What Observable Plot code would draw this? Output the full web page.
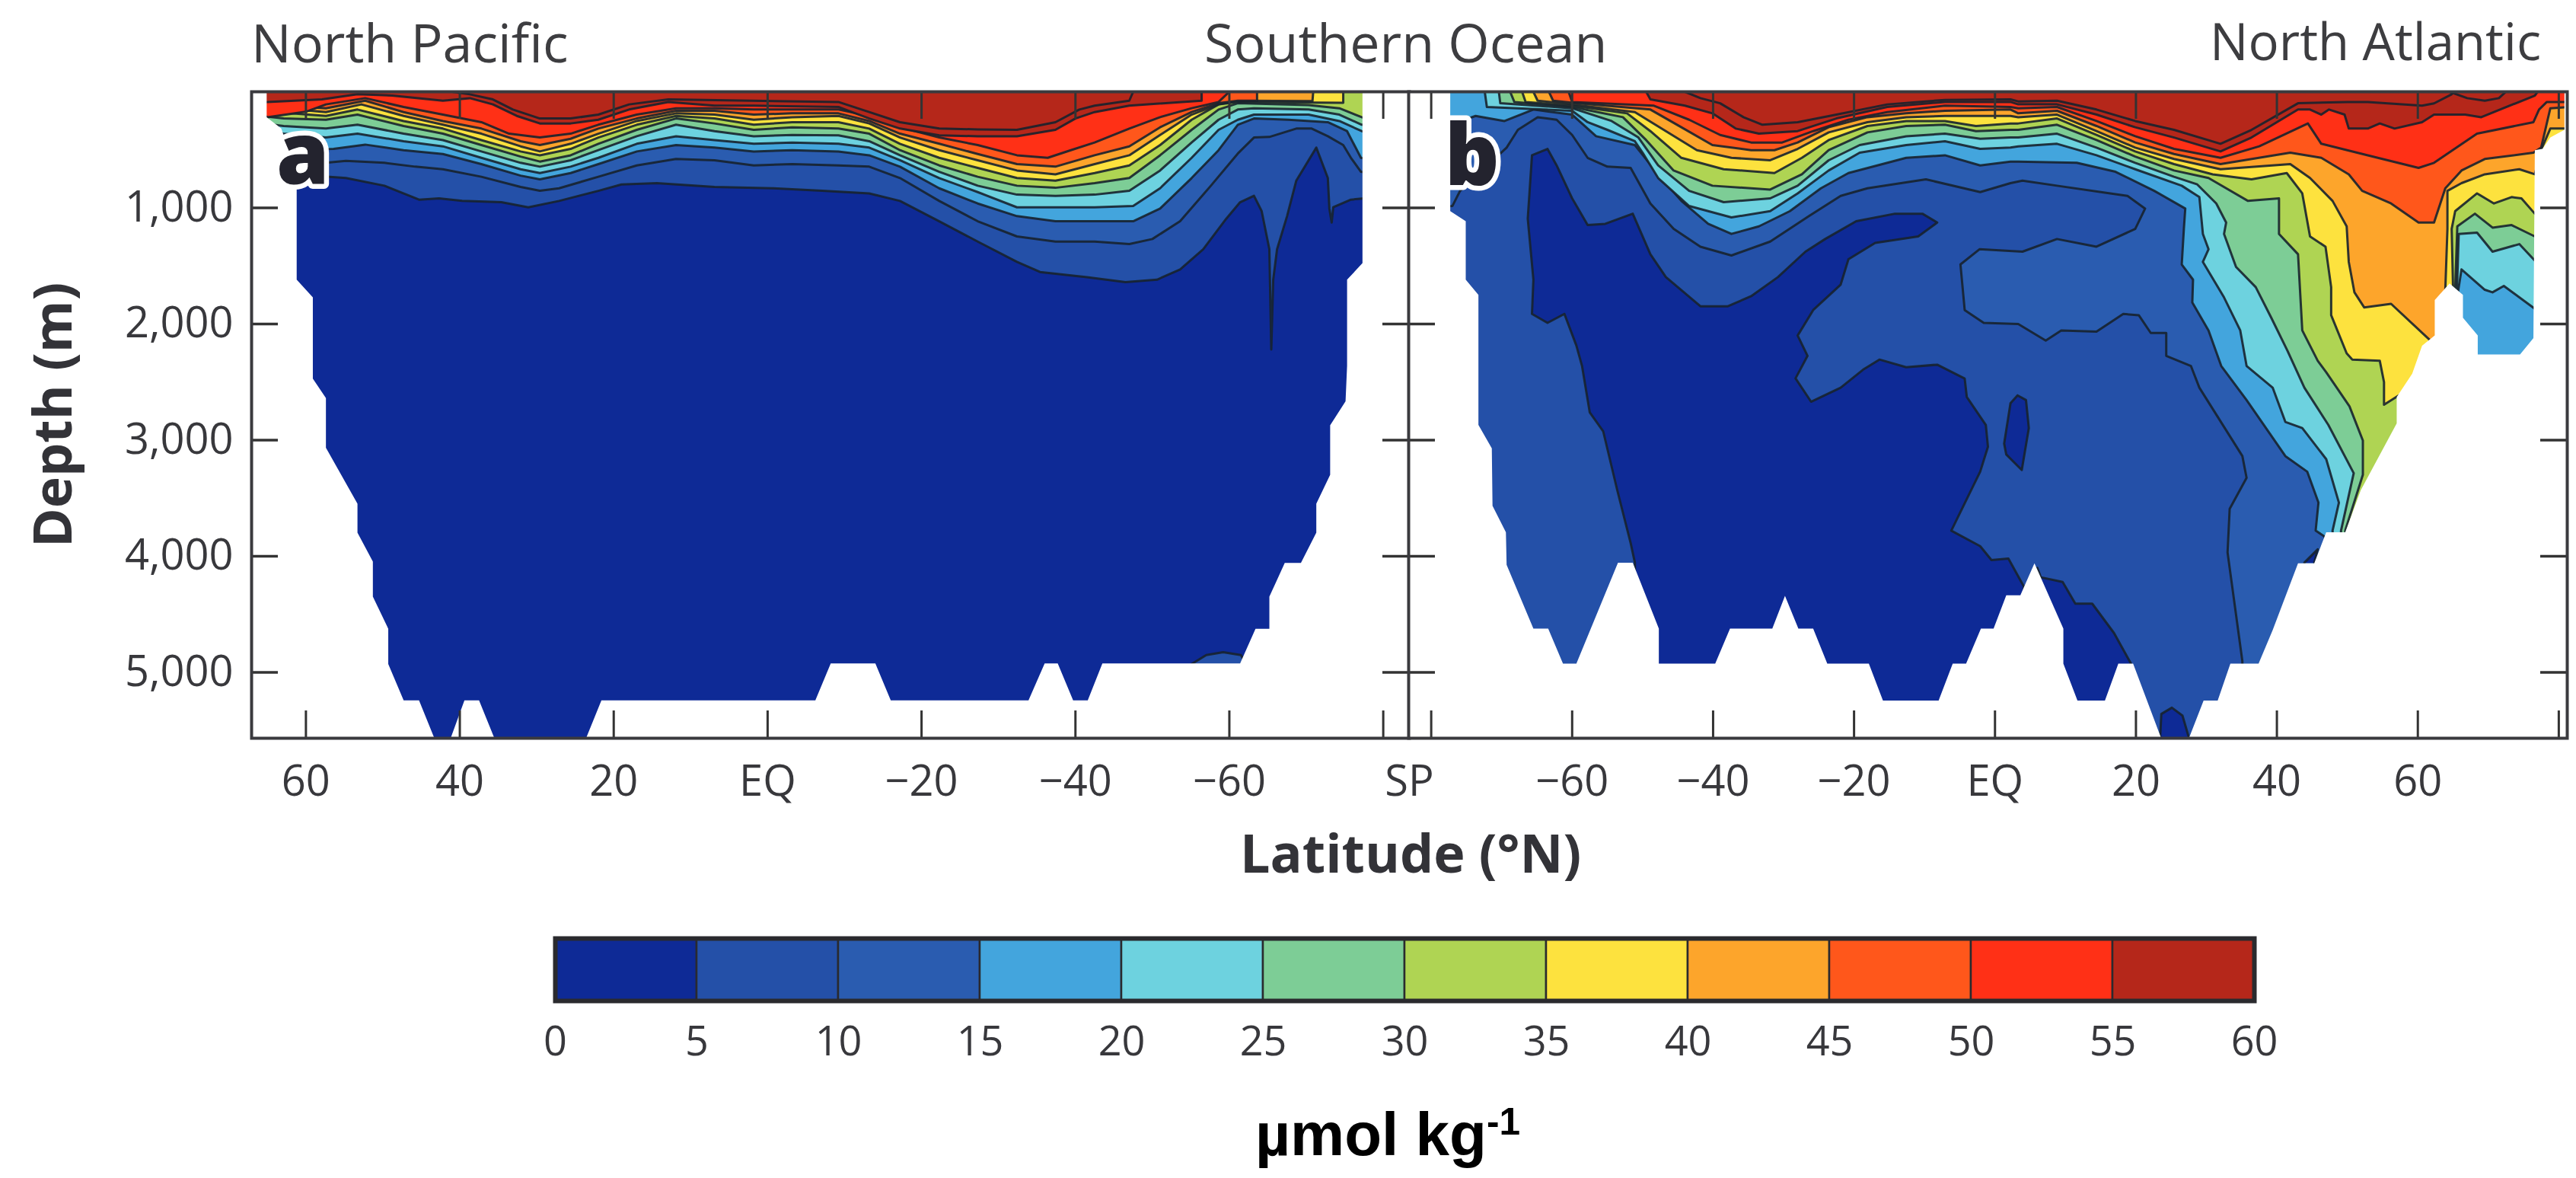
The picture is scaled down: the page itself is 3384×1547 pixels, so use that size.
<!DOCTYPE html>
<html><head><meta charset="utf-8">
<script src="https://cdn.jsdelivr.net/npm/d3@7"></script>
<script src="https://cdn.jsdelivr.net/npm/@observablehq/plot@0.6"></script>
<style>
html,body{margin:0;padding:0;background:#fff;}
#page{position:relative;width:3384px;height:1547px;overflow:hidden;font-family:"Open Sans",sans-serif;color:#38383c;}
#page>div.t{position:absolute;white-space:nowrap;line-height:1;}
#page>div.p{position:absolute;top:0;}
</style></head><body><div id="page"></div>
<script>
// value bands (µmol/kg)
const bandEdges=[0,5,10,15,20,25,30,35,40,45,50,55,60];
const bandColors=["#0e2a96","#2450a8","#2a5cb0","#43a5dd","#6dd2df","#7dcd96","#afd453","#fde23e","#fda52b","#ff571b","#ff3016","#b5271a"];
const depthTicks=[1000,2000,3000,4000,5000];
const latTicks=[60,40,20,0,-20,-40,-60,-80];

// ---- Panel a (Pacific): isolines as [latitude, depth m] ----
const a05=[[67,720],[56.9,733],[54.8,743],[49.8,809],[45.3,929],[42.7,918],[39.7,940],[34.6,951],[31.1,995],[27.1,940],[22,853],[19,798],[14.4,787],[6.9,820],[-0.7,831],[-7.1,853],[-13.2,875],[-17.2,940],[-22.3,1115],[-27.3,1290],[-32.4,1465],[-35.4,1552],[-41.5,1596],[-46.5,1640],[-50.6,1618],[-53.6,1530],[-56.6,1356],[-59.6,1093],[-61.4,951],[-63.2,896],[-64.2,1028],[-65.2,1356],[-65.45,2219],[-65.7,1618],[-66.2,1356],[-67.5,1071],[-68.7,765],[-71.3,481],[-72.8,743],[-73,1006],[-73.3,1126],[-73.5,995],[-75.8,929],[-77.5,918],[-84,918],[-84,0],[67,0]];
const a05patch=[[-55.1,4928],[-57,4850],[-59.2,4826],[-61.5,4850],[-62.2,4928]];
const a10=[[67,600],[57.4,612],[54.8,595],[49.8,612],[45.8,645],[42.2,667],[37.2,732],[32.1,820],[29.6,853],[27.1,831],[22,732],[17,634],[11.9,579],[6.9,590],[1.8,634],[-3.2,623],[-9.2,634],[-13.2,645],[-17.2,743],[-22.3,940],[-27.3,1115],[-32.4,1246],[-37.4,1290],[-42.5,1290],[-47,1312],[-50,1268],[-53.6,1115],[-57.6,809],[-61.2,525],[-63.2,394],[-65.2,389],[-68.7,317],[-70.7,317],[-72.8,383],[-74.8,459],[-75.8,569],[-77.1,689],[-84,760],[-84,0],[67,0]];
const a15=[[67,505],[56.4,492],[52.3,455],[47.3,503],[42.2,536],[37.2,623],[32.1,722],[29.6,754],[25.6,700],[22,623],[17,514],[11.9,459],[6.9,481],[1.8,514],[-3.2,503],[-9.2,514],[-13.2,547],[-17.2,645],[-22.3,831],[-27.3,962],[-32.4,1071],[-37.4,1115],[-42.5,1115],[-47.5,1115],[-51,1006],[-55.1,743],[-58.6,503],[-61.1,284],[-63.2,230],[-67.7,241],[-72.8,262],[-75.3,339],[-77.1,569],[-84,640],[-84,0],[67,0]];
const a20=[[67,330],[62.9,361],[57.4,394],[53.3,361],[47.3,426],[42.2,470],[37.2,569],[32.1,667],[29.6,700],[25.6,645],[22,569],[17,448],[11.9,383],[6.9,416],[1.8,448],[-3.2,437],[-9.2,448],[-13.2,481],[-17.2,590],[-22.3,743],[-27.3,864],[-32.4,995],[-37.4,995],[-42.5,995],[-47.5,984],[-51,831],[-55.1,569],[-58.6,328],[-61.1,241],[-63.2,197],[-70.3,197],[-74.3,252],[-77.2,339],[-84,400],[-84,0],[67,0]];
const a25=[[67,260],[62.9,295],[57.4,317],[53.3,284],[47.3,361],[42.2,416],[37.2,514],[32.1,612],[29.6,645],[25.6,590],[22,503],[17,383],[11.9,284],[6.9,339],[1.8,383],[-3.2,372],[-9.2,376],[-13.2,426],[-17.2,547],[-22.3,689],[-27.3,809],[-32.4,886],[-37.4,897],[-42.5,886],[-47,853],[-51,678],[-55.1,437],[-58.6,241],[-61.1,153],[-63.2,142],[-70.3,153],[-74.3,197],[-77.2,284],[-84,340],[-84,0],[67,0]];
const a30=[[67,200],[62.9,230],[57.4,241],[53.3,197],[47.3,295],[42.2,361],[37.2,459],[32.1,558],[29.6,601],[25.6,547],[22,448],[17,328],[11.9,230],[6.9,273],[1.8,328],[-3.2,306],[-9.2,317],[-13.2,361],[-17.2,503],[-22.3,634],[-27.3,732],[-32.4,809],[-37.4,827],[-42.5,787],[-47,743],[-51,547],[-55.1,328],[-58.6,153],[-61.1,99],[-70.3,114],[-74.3,142],[-77.2,219],[-84,280],[-84,0],[67,0]];
const a35=[[67,150],[62.9,180],[57.4,208],[53.3,153],[47.3,252],[42.2,317],[37.2,416],[32.1,514],[29.6,547],[25.6,492],[22,394],[17,284],[11.9,208],[6.9,230],[1.8,284],[-3.2,262],[-9.2,262],[-13.2,317],[-17.2,448],[-22.3,569],[-27.3,656],[-32.4,743],[-37.4,765],[-42.5,700],[-47,634],[-51,459],[-55.1,241],[-58.6,109],[-61.1,88],[-74.8,95],[-74.8,0],[67,0]];
const a40=[[67,120],[57.4,175],[52.8,109],[47.3,208],[42.2,284],[37.2,361],[32.1,470],[29.6,514],[25.6,448],[22,361],[17,252],[11.9,186],[6.9,197],[1.8,241],[-3.2,219],[-9.2,208],[-13.2,273],[-17.2,394],[-22.3,503],[-27.3,590],[-32.4,678],[-37.4,711],[-42.5,623],[-47,547],[-51,372],[-55.1,197],[-58.6,109],[-61.1,77],[-70.8,81],[-70.9,0],[67,0]];
const a45=[[67,100],[57.4,142],[52.3,77],[47.3,175],[42.2,252],[37.2,317],[32.1,426],[29.6,459],[25.6,405],[22,317],[17,230],[11.9,164],[6.9,164],[1.8,197],[-3.2,186],[-9.2,186],[-13.2,252],[-17.2,361],[-22.3,448],[-27.3,536],[-32.4,623],[-37.4,645],[-42.5,547],[-47,470],[-51,306],[-55.1,175],[-58.6,99],[-61.1,77],[-63.6,77],[-63.6,0],[67,0]];
const a50=[[67,150],[65,219],[59.9,170],[57.4,109],[52.3,55],[47.3,131],[42.2,197],[37.2,262],[33.6,361],[29.6,394],[25.6,361],[22,284],[17,197],[11.9,142],[6.9,142],[1.8,153],[-3.2,153],[-9.2,153],[-13.2,208],[-17.2,306],[-22.3,394],[-27.3,459],[-32.4,547],[-36.4,569],[-39.4,503],[-42.5,437],[-47,317],[-51,219],[-55.1,142],[-58.6,88],[-60,0],[67,0]];
const a55=[[67,90],[65,88],[57.9,66],[53.3,22],[48.8,33],[42.2,77],[38.7,55],[35.7,109],[32.6,208],[29.6,273],[25.6,273],[22,241],[18,153],[12.9,88],[6.9,120],[1.8,120],[-9.2,131],[-10.1,153],[-13.2,230],[-17.2,317],[-22.3,376],[-27.3,383],[-32.4,383],[-37.4,328],[-40,230],[-42.5,175],[-47,120],[-56.4,77],[-56.4,0],[67,0]];
const a60=[[41,0],[38.7,22],[35.7,66],[33.1,153],[29.6,230],[25.6,230],[22,197],[18,109],[12.9,66],[-9.2,88],[-13.2,175],[-17.2,262],[-22.3,317],[-27.3,324],[-32.4,328],[-37.4,262],[-40.5,153],[-42.5,120],[-47,77],[-47.5,0]];
const aFloor=[[68,0],[65.1,0],[65.1,219],[63.2,317],[61.2,700],[61.2,1618],[59.1,1771],[59.1,2471],[57.4,2637],[57.4,3065],[53.3,3548],[53.3,3796],[51.3,4045],[51.3,4348],[49.3,4624],[49.3,4928],[47.3,5240],[45.3,5240],[43.3,5568],[41.2,5568],[39.4,5240],[37.5,5240],[35.5,5568],[23.6,5568],[21.6,5240],[-6.2,5240],[-8.2,4922],[-14,4922],[-16,5240],[-33.9,5240],[-36,4922],[-37.7,4922],[-39.7,5240],[-41.6,5240],[-43.5,4922],[-61.4,4922],[-63.4,4624],[-65.2,4624],[-65.2,4348],[-67.2,4058],[-69.3,4058],[-71.3,3796],[-71.3,3548],[-73.1,3299],[-73.1,2872],[-75.1,2665],[-75.3,2361],[-75.3,1618],[-77.3,1476],[-77.3,0],[-84,0],[-84,5700],[68,5700]];

// ---- Panel b (Atlantic): isolines as [latitude, depth m] ----
const bLow=[[-63.5,492],[-62.2,634],[-60,918],[-57.8,1148],[-55.3,1137],[-51.4,1050],[-48.9,1399],[-46.7,1596],[-41.8,1847],[-37.9,1847],[-34.6,1760],[-30.8,1596],[-26.9,1377],[-24.1,1268],[-19.7,1115],[-14.2,1050],[-10.3,1050],[-8.2,1126],[-10.9,1246],[-17,1301],[-20.8,1443],[-21.9,1661],[-25.8,1880],[-28,2099],[-26.6,2274],[-28.3,2468],[-26.1,2669],[-21.9,2548],[-18.6,2388],[-16.4,2306],[-12.6,2372],[-8.2,2350],[-4.3,2470],[-4,2629],[-1.3,2869],[-1,3057],[-2.1,3271],[-6.2,3779],[-2.1,3913],[-0.5,4033],[1.9,4020],[4.1,4261],[4.1,4400],[4.1,5700],[-51.1,5700],[-51.1,4055],[-51.7,3886],[-53.6,3431],[-55.6,2923],[-57.5,2762],[-58.6,2361],[-59.4,2186],[-61.1,1913],[-63.5,1990],[-65.7,1913],[-65.5,1618],[-66.3,1093],[-65.7,547],[-63.5,492]];
const bLowIsland=[[3.2,2615],[4.4,2655],[4.8,2896],[3.8,3257],[1.6,3124],[1.3,3030],[2.2,2682],[3.2,2615]];
const bLowEast=[[6,4100],[6.5,4181],[9.6,4221],[11.4,4408],[13.8,4408],[16.9,4662],[19.3,4925],[19.3,5700],[6,5700]];
const bLowTrench=[[23.4,5600],[23.6,5358],[25.1,5304],[26.6,5372],[27.7,5600]];
const bLowSlope=[[43.9,4055],[45.8,3940],[45.3,4055]];
const b10=[[-84,1000],[-77,984],[-75.9,853],[-69.3,481],[-67.7,328],[-64.9,219],[-62.2,241],[-60,372],[-57.8,569],[-55,645],[-51.7,656],[-48.9,962],[-45.6,1181],[-41.8,1334],[-37.4,1410],[-31.9,1290],[-26.4,1071],[-21.9,897],[-18.1,831],[-9.8,754],[-2.1,864],[2.2,787],[3.9,765],[8.8,809],[18.8,897],[21.3,1006],[19.9,1181],[14.4,1334],[8.8,1268],[3.9,1377],[-2.2,1356],[-4.9,1487],[-4.3,1880],[-1.6,1990],[3.3,2000],[7.2,2143],[9.4,2055],[14.4,2066],[18.2,1913],[20.4,1924],[22.1,2077],[24.3,2077],[24.3,2274],[27.8,2361],[29,2548],[35.1,3137],[35.7,3324],[33.3,3592],[33,3967],[35.1,4903],[35.1,4960],[84,4960],[84,0],[-84,0]];
const b15=[[-84,300],[-77.3,284],[-73.7,208],[-69.6,252],[-65.5,153],[-60,197],[-56.6,383],[-51.1,459],[-47.8,711],[-44.5,940],[-40.7,1137],[-37.4,1224],[-33.5,1159],[-29.1,1028],[-24.7,831],[-20.8,700],[-12.6,569],[-7.1,547],[-2.1,634],[2.2,601],[3.3,601],[11.6,612],[17.1,689],[22.6,853],[27,1006],[26.8,1181],[26.5,1487],[28.1,1618],[28,1815],[30.3,2055],[32.1,2361],[35.7,2655],[41.2,3137],[44.3,3271],[45.9,3538],[45.5,3779],[46.7,3827],[47,3860],[84,3860],[84,0],[-84,0]];
const b20=[[-72.4,0],[-72.1,131],[-67.7,142],[-60,164],[-57.8,262],[-55,328],[-51.1,426],[-50,525],[-47.8,743],[-43.4,984],[-37.4,1082],[-31.9,1028],[-28,875],[-23.6,678],[-19.2,525],[-12.6,459],[-7.1,426],[-2.1,492],[2.2,481],[3.3,470],[8.8,448],[14.4,547],[19.9,667],[26.5,809],[29,907],[29.5,1224],[30.3,1356],[29.5,1465],[32.5,1771],[34.8,2055],[35.7,2361],[39.4,2548],[41.2,2843],[43.6,2896],[47,3164],[48.8,3538],[47.9,3779],[48,3900],[65.5,3900],[65.5,1800],[66.2,1530],[69.5,1705],[70.6,1727],[72.2,1672],[76.6,1869],[84,1869],[84,0]];
const b25=[[-70.4,0],[-70.2,99],[-60,142],[-54.4,252],[-50.6,394],[-47.8,634],[-43.4,853],[-38.5,951],[-31.9,918],[-28,809],[-23.6,590],[-19.2,459],[-12.6,383],[-7.1,361],[-2.1,405],[2.2,394],[3.3,394],[8.8,361],[14.4,481],[19.9,612],[25.4,732],[28.7,798],[31.4,962],[32.8,1126],[32.5,1224],[34.2,1508],[37,1683],[39.2,1946],[41.5,2230],[43.9,2548],[47.3,2869],[50.9,3284],[49.1,3779],[49.1,3850],[65.5,3850],[65.5,1800],[65.8,1224],[68.4,1213],[70.6,1377],[74.4,1312],[76.6,1454],[84,1454],[84,0]];
const b30=[[-68.8,0],[-68.2,88],[-60,131],[-52.8,219],[-49.5,416],[-45.6,678],[-40.1,809],[-31.9,842],[-27.4,711],[-23.6,503],[-18.1,350],[-12.6,295],[-7.1,284],[-2.7,339],[2.2,328],[3.3,328],[8.8,284],[14.4,416],[19.9,558],[25.4,678],[30.3,743],[35.9,940],[40.3,918],[40.3,1224],[43,1399],[43.6,2055],[45.8,2317],[47,2415],[50.3,2709],[52.2,3003],[52.2,3298],[49.7,3779],[49.8,3850],[65.3,3850],[65.3,1700],[65.6,1159],[68.1,1050],[70.6,1170],[73.3,1148],[76.6,1246],[84,1246],[84,0]];
const b35=[[-67.1,0],[-66.6,88],[-60,120],[-52.2,186],[-48.9,339],[-44.5,569],[-38.5,667],[-31.3,700],[-27.4,569],[-23.6,416],[-18.1,295],[-12.6,252],[-7.1,252],[-2.7,295],[2.2,273],[3.3,273],[8.8,230],[14.4,372],[19.9,514],[25.4,623],[30.9,711],[36.4,754],[41.4,700],[43.6,875],[44.7,1246],[46.9,1334],[47.7,1683],[47.7,1924],[49.9,2252],[50.7,2306],[54.6,2317],[55.2,2500],[55.2,2695],[57.3,2615],[58,2900],[65,2900],[65,1700],[64.8,1181],[65.3,1028],[68.4,875],[70.8,962],[73.3,907],[74.7,918],[76.6,1050],[84,1050],[84,0]];
const b40=[[-65.5,0],[-64.9,77],[-60,109],[-51.1,175],[-46.7,339],[-42.3,503],[-37.4,569],[-31.9,590],[-28,492],[-23.6,350],[-18.1,262],[-12.6,219],[-7.1,208],[2.2,208],[3.3,219],[8.8,197],[14.4,339],[19.9,481],[25.4,579],[32,667],[41.9,623],[44.7,743],[47.9,940],[49.9,1159],[50.2,1465],[51,1727],[52.4,1858],[56.2,1826],[61.8,2143],[62,2300],[63.9,2300],[63.9,1700],[64.2,1181],[64.2,853],[66.2,787],[69.5,711],[74.4,667],[76.6,711],[77.5,500],[78.8,317],[84,317],[84,0]];
const b45=[[-63.3,0],[-62.7,77],[-59.4,99],[-48.9,153],[-44.5,306],[-40.1,459],[-34.6,503],[-31.3,503],[-28,437],[-23.6,306],[-18.1,219],[-12.6,186],[-7.1,164],[2.2,153],[3.3,186],[8.8,164],[14.4,295],[19.9,437],[25.4,536],[32,623],[41.9,525],[46.3,569],[50.2,711],[52.1,853],[56.2,962],[60.1,1126],[62.3,1126],[63.9,831],[66.2,678],[69.5,579],[76.4,525],[77.5,481],[78.8,142],[84,120],[84,0]];
const b50=[[-60.5,0],[-60,88],[-48.4,120],[-43.4,241],[-39,372],[-34.6,437],[-30.2,437],[-25.8,339],[-20.8,241],[-15.3,175],[-7.1,120],[2.2,131],[3.3,142],[8.8,131],[14.4,252],[19.9,383],[25.4,492],[32,569],[37.5,470],[44.4,273],[46.3,448],[52.9,547],[60.1,656],[62.3,612],[68.4,361],[76.4,262],[77.2,153],[78.3,88],[84,88],[84,0]];
const b55=[[-49.5,0],[-48.9,66],[-44,120],[-40.1,186],[-36.8,317],[-33.5,361],[-28,339],[-22.5,230],[-15.3,131],[-7.1,88],[2.2,88],[3.3,109],[8.8,109],[14.4,197],[19.9,306],[25.4,394],[32,514],[36.4,394],[43,153],[44.7,153],[46.3,197],[47.4,153],[49.6,197],[50.2,317],[52.9,317],[54.6,273],[56.7,317],[60.6,262],[62.3,197],[66.7,197],[69,219],[76.6,33],[77,0]];
const b60=[[-44,0],[-41.8,55],[-39,99],[-35.7,219],[-33,284],[-28,262],[-22.5,197],[-15.3,109],[-7.1,70],[2.2,66],[3.3,83],[8.8,77],[14.4,153],[19.9,252],[25.4,328],[32,448],[36.4,328],[43,99],[50,88],[52.9,88],[60.6,120],[62.3,100],[64.8,22],[65,0]];
const b60loop=[[64.5,0],[67,55],[69.5,77],[71.5,55],[72.5,0]];
const bFloor=[[-84,0],[-77.3,0],[-77.3,1028],[-75.1,1115],[-75.1,1618],[-73.3,1749],[-73.3,2869],[-71.4,3070],[-71.3,3565],[-69.4,3793],[-69.3,4074],[-65.5,4622],[-63.4,4622],[-61.3,4925],[-59.4,4925],[-53.5,4055],[-51.4,4055],[-47.7,4622],[-47.7,4925],[-39.7,4925],[-37.6,4622],[-31.6,4622],[-29.8,4341],[-27.9,4622],[-25.8,4622],[-23.8,4925],[-17.9,4925],[-15.9,5243],[-8,5243],[-6,4925],[-4.1,4925],[-2,4622],[-0.2,4622],[1.6,4336],[3.6,4336],[5.6,4060],[9.7,4622],[9.7,4925],[11.7,5243],[15.6,5243],[17.5,4925],[19.6,4925],[23.6,5570],[27.5,5570],[29.6,5243],[31.6,5243],[33.4,4925],[37.4,4925],[39.4,4636],[43,4060],[45.3,4060],[47,3793],[49.7,3793],[51.9,3431],[57,2856],[57,2629],[59.2,2428],[60.6,2186],[62.4,2099],[62.4,1793],[64.5,1651],[66.4,1749],[66.4,1946],[68.5,2099],[68.5,2263],[74.5,2263],[76.4,2121],[76.6,503],[77.7,492],[78.8,394],[80.8,328],[80.8,0],[84,0],[84,5700],[-84,5700]];

const FONT='"Open Sans",sans-serif', INK="#38383c", LINE="#17222e";
const SP_LAT=-83.4;
const latLabel=d=>d===0?"EQ":d===SP_LAT?"SP":d<0?"\u2212"+(-d):String(d);

function outline(pts,fill){return Plot.line(pts,{x:d=>d[0],y:d=>d[1],fill,stroke:LINE,strokeWidth:3,strokeOpacity:.9,curve:"linear",clip:true});}
function land(pts){return Plot.line(pts,{x:d=>d[0],y:d=>d[1],fill:"white",stroke:"none",curve:"linear",clip:true});}

function panel({left,width,marginLeft,marginRight,xDomain,layers,floor,ticks,labelTicks,letter}){
  const kx=(width-marginLeft-marginRight)/Math.abs(xDomain[1]-xDomain[0]);
  const sgn=Math.sign(xDomain[1]-xDomain[0]);
  const tickLenX=35/kx, tickLenY=36/0.1525;
  const svg=Plot.plot({
    width,height:1080,marginLeft,marginRight,marginTop:120,marginBottom:111,
    x:{domain:xDomain,label:null},
    y:{domain:[0,5567],reverse:true,label:null,axis:null},
    style:{background:"transparent",maxWidth:"none",overflow:"visible",fontFamily:FONT},
    marks:[
      ...layers,
      land(floor),
      Plot.ruleX(ticks,{x:d=>d,y1:0,y2:tickLenY,stroke:"#333",strokeWidth:3}),
      Plot.ruleX(ticks,{x:d=>d,y1:5567,y2:5567-tickLenY,stroke:"#333",strokeWidth:3}),
      Plot.ruleY(depthTicks,{y:d=>d,x1:xDomain[0],x2:xDomain[0]+sgn*tickLenX,stroke:"#333",strokeWidth:3.5}),
      Plot.ruleY(depthTicks,{y:d=>d,x1:xDomain[1],x2:xDomain[1]-sgn*tickLenX,stroke:"#333",strokeWidth:3.5}),
      Plot.frame({stroke:"#3a3a3e",strokeWidth:4}),
      Plot.text([letter],{x:d=>d.lat,y:d=>d.depth,text:d=>d.text,fontSize:112,fontWeight:800,fontFamily:FONT,fill:"#23232e",stroke:"white",strokeWidth:13,textAnchor:"middle"}),
      Plot.axisX({anchor:"bottom",ticks:labelTicks,tickFormat:latLabel,tickSize:0,tickPadding:36,fontSize:56,color:INK,label:null}),
      ...(left===0?[Plot.axisY({anchor:"left",ticks:depthTicks,tickFormat:d3.format(","),tickSize:0,tickPadding:24,fontSize:56,color:INK,label:null})]:[])
    ]
  });
  const host=document.createElement("div");host.className="p";host.style.left=left+"px";host.appendChild(svg);
  document.getElementById("page").appendChild(host);
}

const C=bandColors;
panel({left:0,width:1900,marginLeft:330,marginRight:49,xDomain:[67.06,SP_LAT],floor:aFloor,
  ticks:latTicks,labelTicks:[60,40,20,0,-20,-40,-60,SP_LAT],letter:{lat:60.4,depth:557,text:"a"},
  layers:[
    Plot.rectY([0],{x1:()=>67.06,x2:()=>SP_LAT,y1:()=>0,y2:()=>5567,fill:C[0]}),
    outline(a05,C[1]),outline(a05patch,C[1]),outline(a10,C[2]),outline(a15,C[3]),outline(a20,C[4]),outline(a25,C[5]),
    outline(a30,C[6]),outline(a35,C[7]),outline(a40,C[8]),outline(a45,C[9]),outline(a50,C[10]),outline(a55,C[11]),outline(a60,C[11])
  ]});
panel({left:1750,width:1634,marginLeft:100,marginRight:12,xDomain:[-83.2,81.2],floor:bFloor,
  ticks:latTicks.concat([80]),labelTicks:[-60,-40,-20,0,20,40,60],letter:{lat:-74.2,depth:570,text:"b"},
  layers:[
    Plot.rectY([0],{x1:()=>-83.2,x2:()=>81.2,y1:()=>0,y2:()=>5567,fill:C[1]}),
    outline(bLow,C[0]),outline(bLowIsland,C[0]),outline(bLowEast,C[0]),outline(bLowTrench,C[0]),
    outline(b10,C[2]),outline(bLowSlope,C[0]),outline(b15,C[3]),outline(b20,C[4]),outline(b25,C[5]),outline(b30,C[6]),
    outline(b35,C[7]),outline(b40,C[8]),outline(b45,C[9]),outline(b50,C[10]),outline(b55,C[11]),outline(b60,C[11]),outline(b60loop,C[11])
  ]});

// colour bar
const bands=bandColors.map((color,i)=>({x1:bandEdges[i],x2:bandEdges[i+1],color}));
const bar=Plot.plot({
  width:2432,height:220,marginLeft:100,marginRight:100,marginTop:7,marginBottom:131,
  x:{domain:[0,60],label:null},y:{domain:[0,1],axis:null},
  style:{background:"transparent",maxWidth:"none",overflow:"visible",fontFamily:FONT},
  marks:[
    Plot.rect(bands,{x1:"x1",x2:"x2",y1:()=>0,y2:()=>1,fill:"color",stroke:"#2a2a2e",strokeWidth:2.5}),
    Plot.frame({stroke:"#2a2a2e",strokeWidth:6}),
    Plot.axisX({anchor:"bottom",ticks:bandEdges,tickFormat:d=>String(d),tickSize:0,tickPadding:33,fontSize:54,color:INK,label:null})
  ]});
const barHost=document.createElement("div");barHost.className="p";barHost.style.left="629px";barHost.style.top="1225px";barHost.appendChild(bar);
document.getElementById("page").appendChild(barHost);

// text
function addText(html,css){const d=document.createElement("div");d.className="t";d.innerHTML=html;d.style.cssText=css;document.getElementById("page").appendChild(d);}
const titleCss="top:20px;color:#3d3d40;";
addText("North Pacific",titleCss+"font-size:70px;left:330px;");
addText("Southern Ocean",titleCss+"font-size:70px;left:1582px;");
addText("North Atlantic",titleCss+"font-size:67px;right:46px;");
addText("Latitude (°N)","left:1629px;top:1084px;font-size:70px;font-weight:700;color:#333338;");
addText("Depth (m)","left:67px;top:545px;font-size:70px;font-weight:700;color:#333338;transform:translate(-50%,-50%) rotate(-90deg);");
addText('µmol kg<sup style="font-size:.62em;vertical-align:.55em;line-height:0">-1</sup>','left:1649px;top:1450px;font-family:"Liberation Sans",sans-serif;font-size:80px;font-weight:700;color:#000;');
</script></body></html>
